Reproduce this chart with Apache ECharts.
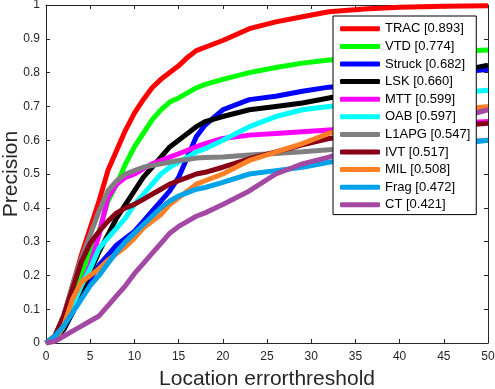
<!DOCTYPE html>
<html>
<head>
<meta charset="utf-8">
<script src="https://cdn.jsdelivr.net/npm/echarts@6/dist/echarts.min.js"></script>
<style>
  html, body { margin: 0; padding: 0; background: #fff; }
  #chart { width: 495px; height: 389px; }
</style>
</head>
<body>
<div id="chart"></div>
<script>
// location error thresholds (pixels)
var thresholds = [0, 1, 2, 3, 4, 5, 6, 7, 8, 9, 10, 11, 12, 13, 14, 15, 16, 17, 18, 20, 23, 26, 29, 32, 36, 40, 45, 50];

var trackers = ['TRAC [0.893]', 'VTD [0.774]', 'Struck [0.682]', 'LSK [0.660]', 'MTT [0.599]', 'OAB [0.597]',
                'L1APG [0.547]', 'IVT [0.517]', 'MIL [0.508]', 'Frag [0.472]', 'CT [0.421]'];

var trac   = [0, .02, .08, .17, .26, .34, .42, .51, .57, .63, .68, .72, .755, .78, .80, .82, .845, .865, .875, .895, .93, .95, .965, .98, .988, .993, .996, .998];
var vtd    = [0, .02, .06, .13, .20, .27, .33, .42, .47, .53, .58, .62, .66, .69, .713, .725, .74, .755, .765, .78, .80, .815, .828, .837, .845, .855, .862, .867];
var struck = [0, .01, .04, .09, .14, .19, .23, .26, .29, .31, .33, .36, .39, .42, .45, .49, .55, .61, .645, .69, .72, .73, .745, .757, .765, .78, .795, .81];
var lsk    = [0, .01, .04, .09, .15, .21, .27, .32, .37, .41, .45, .49, .52, .55, .58, .60, .62, .64, .655, .67, .69, .70, .71, .725, .745, .77, .795, .822];
var mtt    = [0, .01, .05, .11, .17, .23, .32, .43, .47, .49, .50, .515, .53, .54, .55, .56, .57, .58, .59, .605, .615, .62, .625, .63, .635, .64, .648, .655];
var oab    = [0, .01, .05, .11, .17, .22, .28, .31, .34, .37, .41, .44, .47, .50, .52, .535, .55, .565, .575, .60, .64, .67, .69, .70, .71, .725, .737, .748];
var l1apg  = [0, .02, .08, .17, .25, .32, .39, .45, .48, .50, .51, .52, .525, .53, .535, .54, .543, .547, .549, .55, .556, .561, .566, .572, .578, .585, .592, .60];
var ivt    = [0, .02, .08, .16, .24, .295, .33, .36, .385, .40, .41, .425, .44, .455, .47, .48, .49, .50, .505, .52, .545, .565, .586, .605, .615, .63, .64, .65];
var mil    = [0, .01, .05, .13, .18, .20, .22, .245, .265, .285, .31, .34, .36, .38, .41, .43, .45, .47, .48, .50, .54, .565, .59, .62, .645, .665, .685, .70];
var frag   = [0, .02, .05, .09, .13, .17, .20, .235, .27, .30, .325, .35, .375, .40, .42, .435, .445, .455, .46, .475, .50, .51, .52, .535, .55, .565, .585, .60];
var ct     = [0, .005, .02, .035, .05, .065, .08, .11, .14, .17, .205, .235, .265, .295, .325, .345, .36, .375, .385, .41, .45, .50, .53, .55, .585, .62, .655, .69];

var curves = [trac, vtd, struck, lsk, mtt, oab, l1apg, ivt, mil, frag, ct];
var colors = ['#ff0000', '#00ff00', '#0000ff', '#000000', '#ff00ff', '#00ffff',
              '#808080', '#880015', '#ff7f27', '#00a2e8', '#a349a4'];

var font = 'Liberation Sans, Arial, sans-serif';
var axisColor = '#262626';

var chart = echarts.init(document.getElementById('chart'));

function makeSeries() {
    var list = [];
    for (var i = 0; i < trackers.length; i++) {
        var pts = [];
        for (var j = 0; j < thresholds.length; j++) {
            pts.push([thresholds[j], curves[i][j]]);
        }
        list.push({
            name: trackers[i],
            type: 'line',
            data: pts,
            showSymbol: false,
            symbol: 'none',
            lineStyle: { width: 5, color: colors[i] },
            itemStyle: { color: colors[i] }
        });
    }
    return list;
}

function xAx(pos, withLabel) {
    return {
        type: 'value',
        position: pos,
        min: 0,
        max: 50,
        interval: 5,
        name: withLabel ? 'Location errorthreshold' : '',
        nameLocation: 'middle',
        nameGap: 26,
        nameMoveOverlap: false,
        nameTextStyle: { fontSize: 21, color: axisColor, fontFamily: font, verticalAlign: 'top' },
        axisLine: { show: true, onZero: false, lineStyle: { color: axisColor, width: 1 } },
        axisTick: { show: true, inside: true, length: 4, lineStyle: { color: axisColor } },
        axisLabel: { show: withLabel, fontSize: 12, color: axisColor, fontFamily: font, margin: 8 },
        splitLine: { show: false }
    };
}

function yAx(pos, withLabel) {
    return {
        type: 'value',
        position: pos,
        min: 0,
        max: 1,
        interval: 0.1,
        name: withLabel ? 'Precision' : '',
        nameLocation: 'middle',
        nameGap: 24,
        nameMoveOverlap: false,
        nameTextStyle: { fontSize: 21, color: axisColor, fontFamily: font },
        axisLine: { show: true, onZero: false, lineStyle: { color: axisColor, width: 1 } },
        axisTick: { show: true, inside: true, length: 4, lineStyle: { color: axisColor } },
        axisLabel: { show: withLabel, fontSize: 12, color: axisColor, fontFamily: font, margin: 6 },
        splitLine: { show: false }
    };
}

var option = {
    animation: false,
    backgroundColor: '#ffffff',
    grid: { left: 46, right: 7, top: 5, bottom: 46, containLabel: false, outerBoundsMode: 'none' },
    legend: {
        data: trackers,
        orient: 'vertical',
        left: 333,
        top: 16,
        padding: [4, 6, 1, 7],
        itemGap: 0,
        itemWidth: 40,
        itemHeight: 5,
        icon: 'roundRect',
        backgroundColor: '#ffffff',
        borderColor: '#000000',
        borderWidth: 1,
        borderRadius: 0,
        textStyle: { fontSize: 13, color: '#000000', fontFamily: font, lineHeight: 17.6 }
    },
    xAxis: [xAx('bottom', true), xAx('top', false)],
    yAxis: [yAx('left', true), yAx('right', false)],
    series: makeSeries()
};

chart.setOption(option);
</script>
</body>
</html>
